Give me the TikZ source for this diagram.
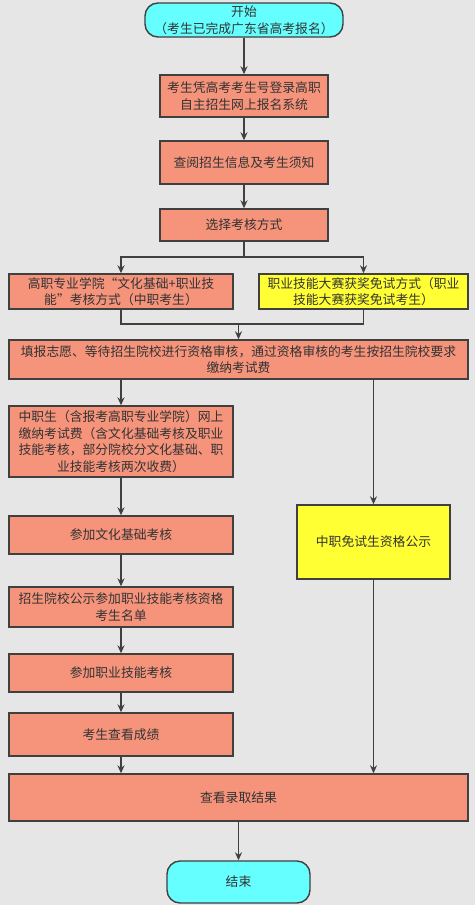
\documentclass[tikz,border=0pt]{standalone}
\usepackage{fontspec}
\setmainfont{Noto Sans CJK SC}
\usetikzlibrary{arrows.meta}
\definecolor{bgcol}{HTML}{E6E6E6}
\definecolor{salmon}{HTML}{F5937B}
\definecolor{cyanbox}{HTML}{66FFFF}
\definecolor{yellowbox}{HTML}{FFFF33}
\definecolor{edgecol}{HTML}{404040}
\begin{document}
\begin{tikzpicture}[x=1pt,y=-1pt,
  box/.style={draw=edgecol,line width=1.4pt,fill=salmon,inner sep=0pt,align=center,text=black!80,font=\fontsize{12.8}{16.5}\selectfont},
  yellow/.style={box,fill=yellowbox},
  term/.style={box,fill=cyanbox,rounded corners=13pt},
  arr/.style={draw=edgecol,line width=1.4pt,-{Stealth[length=8pt,width=7pt]}},
  ln/.style={draw=edgecol,line width=1.4pt}]
\fill[bgcol] (0,0) rectangle (475,905);
\useasboundingbox (0,0) rectangle (475,905);
% top part
\node[term,minimum width=198pt,minimum height=34pt] (start) at (244,20) {开始\\（考生已完成广东省高考报名）};
\node[box,minimum width=168pt,minimum height=42pt] (login) at (244,96) {考生凭高考考生号登录高职\\自主招生网上报名系统};
\node[box,minimum width=168pt,minimum height=43pt] (info) at (244,162.5) {查阅招生信息及考生须知};
\node[box,minimum width=168pt,minimum height=32pt] (choose) at (244,225) {选择考核方式};
\node[box,minimum width=224pt,minimum height=35pt] (gz) at (121,291.5) {高职专业学院“文化基础+职业技\\能”考核方式（中职考生）};
\node[yellow,minimum width=209pt,minimum height=35pt] (award) at (363.5,291.5) {职业技能大赛获奖免试方式（职业\\技能大赛获奖免试考生）};
\node[box,minimum width=459pt,minimum height=39pt] (fill) at (238.5,359.5) {填报志愿、等待招生院校进行资格审核，通过资格审核的考生按招生院校要求\\缴纳考试费};
% left column
\node[box,minimum width=224pt,minimum height=71pt] (pay) at (121,441.5) {中职生（含报考高职专业学院）网上\\缴纳考试费（含文化基础考核及职业\\技能考核，部分院校分文化基础、职\\业技能考核两次收费）};
\node[box,minimum width=224pt,minimum height=38pt] (culture) at (121,535) {参加文化基础考核};
\node[box,minimum width=224pt,minimum height=40pt] (list) at (121,607) {招生院校公示参加职业技能考核资格\\考生名单};
\node[box,minimum width=224pt,minimum height=38pt] (skill) at (121,673) {参加职业技能考核};
\node[box,minimum width=224pt,minimum height=43pt] (score) at (121,734.5) {考生查看成绩};
% right column
\node[yellow,minimum width=153pt,minimum height=74pt] (exempt) at (373.5,542) {中职免试生资格公示};
% bottom
\node[box,minimum width=459pt,minimum height=47pt] (result) at (238.5,797.5) {查看录取结果};
\node[term,minimum width=143pt,minimum height=42pt] (end) at (238.5,882) {结束};
% connectors
\coordinate (split) at (244,257);
\coordinate (merge) at (238.5,324);
\draw[arr] (start) -- (login);
\draw[arr] (login) -- (info);
\draw[arr] (info) -- (choose);
\draw[ln] (choose) -- (split);
\draw[arr] (split) -| (gz.north);
\draw[arr] (split) -| (award.north);
\draw[ln] (gz.south) |- (merge);
\draw[ln] (award.south) |- (merge);
\draw[arr] (merge) -- (fill);
\draw[arr] (fill.south -| pay) -- (pay);
\draw[arr] (fill.south -| exempt) -- (exempt);
\foreach \a/\b in {pay/culture,culture/list,list/skill,skill/score}
  \draw[arr] (\a) -- (\b);
\draw[arr] (score) -- (result.north -| score);
\draw[arr] (exempt) -- (result.north -| exempt);
\draw[arr] (result) -- (end);
\end{tikzpicture}
\end{document}
